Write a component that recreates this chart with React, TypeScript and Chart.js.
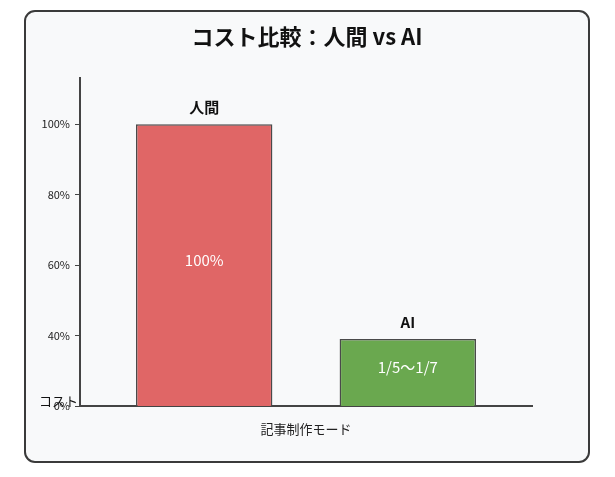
import { useEffect, useRef } from "react";
import * as React from "react";
import { Chart, registerables } from "chart.js";

Chart.register(...registerables);

// data
const modes = ["人間", "AI"];
const costs = [100, 39];
const valueLabels = ["100%", "1/5〜1/7"];
const barColors = ["#e06666", "#6aa84f"];
// the bottom tick of the original axis carries the "0%" label
const yTickValues = [20, 40, 60, 80, 100];
const yTickLabels = ["0%", "40%", "60%", "80%", "100%"];

const FONT = "'Noto Sans CJK JP', 'Noto Sans', sans-serif";

const barLabels = {
  id: "barLabels",
  afterDatasetsDraw(chart: Chart) {
    const ctx = chart.ctx;
    const meta = chart.getDatasetMeta(0);
    const area = chart.chartArea;
    ctx.save();
    ctx.textAlign = "center";
    ctx.textBaseline = "middle";
    meta.data.forEach((bar: any, i: number) => {
      const { x, y, base } = bar.getProps(["x", "y", "base"], true);
      const bottom = Math.min(base, area.bottom);
      ctx.fillStyle = "#111";
      ctx.font = `bold 15px ${FONT}`;
      ctx.fillText(modes[i], x, y - 17);
      ctx.fillStyle = "#ffffff";
      ctx.font = `15px ${FONT}`;
      ctx.fillText(valueLabels[i], x, (y + bottom) / 2 - 5);
    });
    // horizontal y axis label
    ctx.fillStyle = "#111";
    ctx.font = `13px ${FONT}`;
    ctx.textAlign = "right";
    ctx.fillText("コスト", area.left - 2, area.bottom - 5);
    ctx.restore();
  },
};

const CostChart: React.FC = () => {
  const chartRef = useRef<HTMLCanvasElement>(null);

  useEffect(() => {
    if (!chartRef.current) return;
    const chart = new Chart(chartRef.current, {
      type: "bar",
      data: {
        datasets: [
          {
            data: costs.map((v, i) => ({ x: i, y: v })),
            backgroundColor: barColors,
            borderColor: "#4a4a4a",
            borderWidth: 1.5,
            borderSkipped: false,
            categoryPercentage: 1,
            barPercentage: 0.67,
          },
        ],
      },
      options: {
        animation: false,
        responsive: true,
        maintainAspectRatio: false,
        layout: { padding: 0 },
        plugins: {
          legend: { display: false },
          tooltip: { enabled: false },
          title: {
            display: true,
            text: "コスト比較：人間 vs AI",
            color: "#111",
            font: { family: FONT, size: 22, weight: "bold" },
            padding: { top: 11, bottom: 29 },
          },
        },
        scales: {
          x: {
            type: "linear",
            offset: false,
            min: -0.61,
            max: 1.61,
            afterBuildTicks(scale: any) {
              scale.ticks = modes.map((_, i) => ({ value: i }));
            },
            ticks: { display: false },
            grid: { display: false },
            border: { display: true, color: "#444", width: 2 },
            title: {
              display: true,
              text: "記事制作モード",
              color: "#222",
              font: { family: FONT, size: 13 },
              padding: { top: 0, bottom: 24 },
            },
            afterFit(scale: any) {
              scale.height = 55;
            },
          },
          y: {
            min: 20,
            max: 113,
            afterBuildTicks(scale: any) {
              scale.ticks = yTickValues.map((v) => ({ value: v }));
            },
            ticks: {
              color: "#222",
              font: { family: FONT, size: 11 },
              padding: 5,
              callback: (v: any) => yTickLabels[yTickValues.indexOf(v)],
            },
            grid: {
              drawOnChartArea: false,
              drawTicks: true,
              tickLength: 5,
              color: "#444",
            },
            border: { display: true, color: "#444", width: 2 },
            afterFit(scale: any) {
              scale.width = 54;
            },
          },
          spacer: {
            position: "right",
            display: true,
            ticks: { display: false },
            grid: { display: false },
            border: { display: false },
            afterFit(scale: any) {
              scale.width = 56;
            },
          },
        },
      },
      plugins: [barLabels],
    });
    return () => chart.destroy();
  }, []);

  return <canvas ref={chartRef}></canvas>;
};

export default function App() {
  return (
    <div
      style={{
        marginLeft: 16,
        marginTop: 2,
        width: 566,
        height: 453,
        boxSizing: "border-box",
        border: "2px solid #3a3a3a",
        borderRadius: 11,
        background: "#f8f9fa",
        position: "relative",
      }}
    >
      <div style={{ position: "relative", width: 562, height: 449 }}>
        <CostChart />
      </div>
    </div>
  );
}
